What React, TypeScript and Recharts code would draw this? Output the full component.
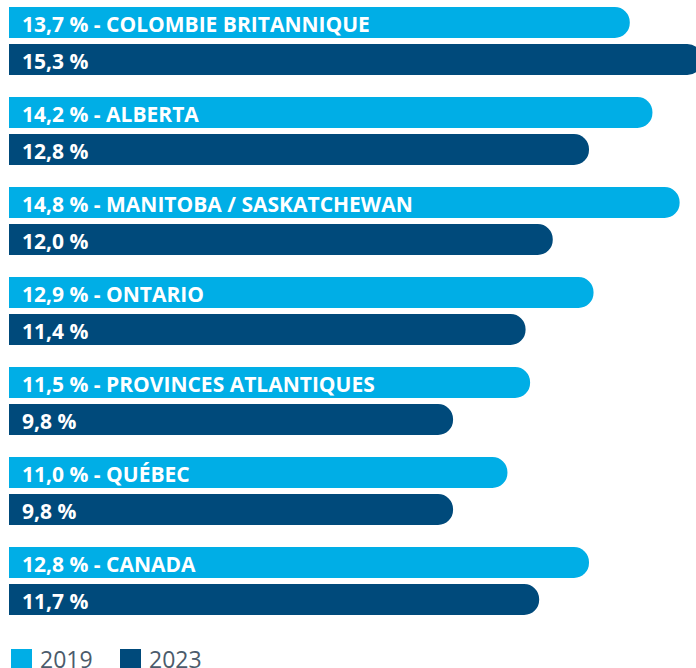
import React from "react";
import { BarChart, Bar, XAxis, YAxis, LabelList } from "recharts";

const regions = [
  "COLOMBIE BRITANNIQUE",
  "ALBERTA",
  "MANITOBA / SASKATCHEWAN",
  "ONTARIO",
  "PROVINCES ATLANTIQUES",
  "QUÉBEC",
  "CANADA",
];
const values2019 = [13.7, 14.2, 14.8, 12.9, 11.5, 11.0, 12.8];
const values2023 = [15.3, 12.8, 12.0, 11.4, 9.8, 9.8, 11.7];
const years = ["2019", "2023"];

const LIGHT = "#00AEE6";
const DARK = "#004A7B";
const FONT = "'Open Sans', 'Noto Sans', sans-serif";

const data = regions.map((region, i) => ({
  region,
  y2019: values2019[i],
  y2023: values2023[i],
}));

const pct = (v: number) => `${v.toFixed(1).replace(".", ",")} %`;

function makeLabel(withRegion: boolean) {
  return (props: any) => {
    const { x, y, height, value, index } = props;
    const text = withRegion ? `${pct(value)} - ${regions[index]}` : pct(value);
    return (
      <text
        x={x + 13}
        y={y + height / 2 + 1}
        fill="#ffffff"
        fontFamily={FONT}
        fontWeight={700}
        fontSize={21}
        dominantBaseline="central"
      >
        {text}
      </text>
    );
  };
}

export default function App() {
  return (
    <div
      style={{
        position: "absolute",
        left: 0,
        top: 0,
        width: 696,
        height: 668,
        overflow: "hidden",
        background: "#ffffff",
      }}
    >
      <div style={{ marginTop: -4 }}>
        <BarChart
          width={734}
          height={630}
          data={data}
          layout="vertical"
          margin={{ top: 0, right: 0, bottom: 0, left: 9 }}
          barSize={31}
          barGap={6}
        >
          <XAxis type="number" domain={[0, 16]} hide />
          <YAxis type="category" dataKey="region" hide />
          <Bar dataKey="y2019" fill={LIGHT} radius={[0, 15, 15, 0]} isAnimationActive={false}>
            <LabelList dataKey="y2019" content={makeLabel(true)} />
          </Bar>
          <Bar dataKey="y2023" fill={DARK} radius={[0, 15, 15, 0]} isAnimationActive={false}>
            <LabelList dataKey="y2023" content={makeLabel(false)} />
          </Bar>
        </BarChart>
      </div>
      {years.map((year, i) => (
        <div
          key={year}
          style={{
            position: "absolute",
            left: 11 + i * 109,
            top: 643,
            display: "flex",
            alignItems: "center",
            fontFamily: FONT,
            fontSize: 23,
            color: "#4B5B6B",
          }}
        >
          <span
            style={{
              display: "inline-block",
              width: 21,
              height: 20,
              background: i === 0 ? LIGHT : DARK,
              marginRight: 8,
            }}
          />
          {year}
        </div>
      ))}
    </div>
  );
}
